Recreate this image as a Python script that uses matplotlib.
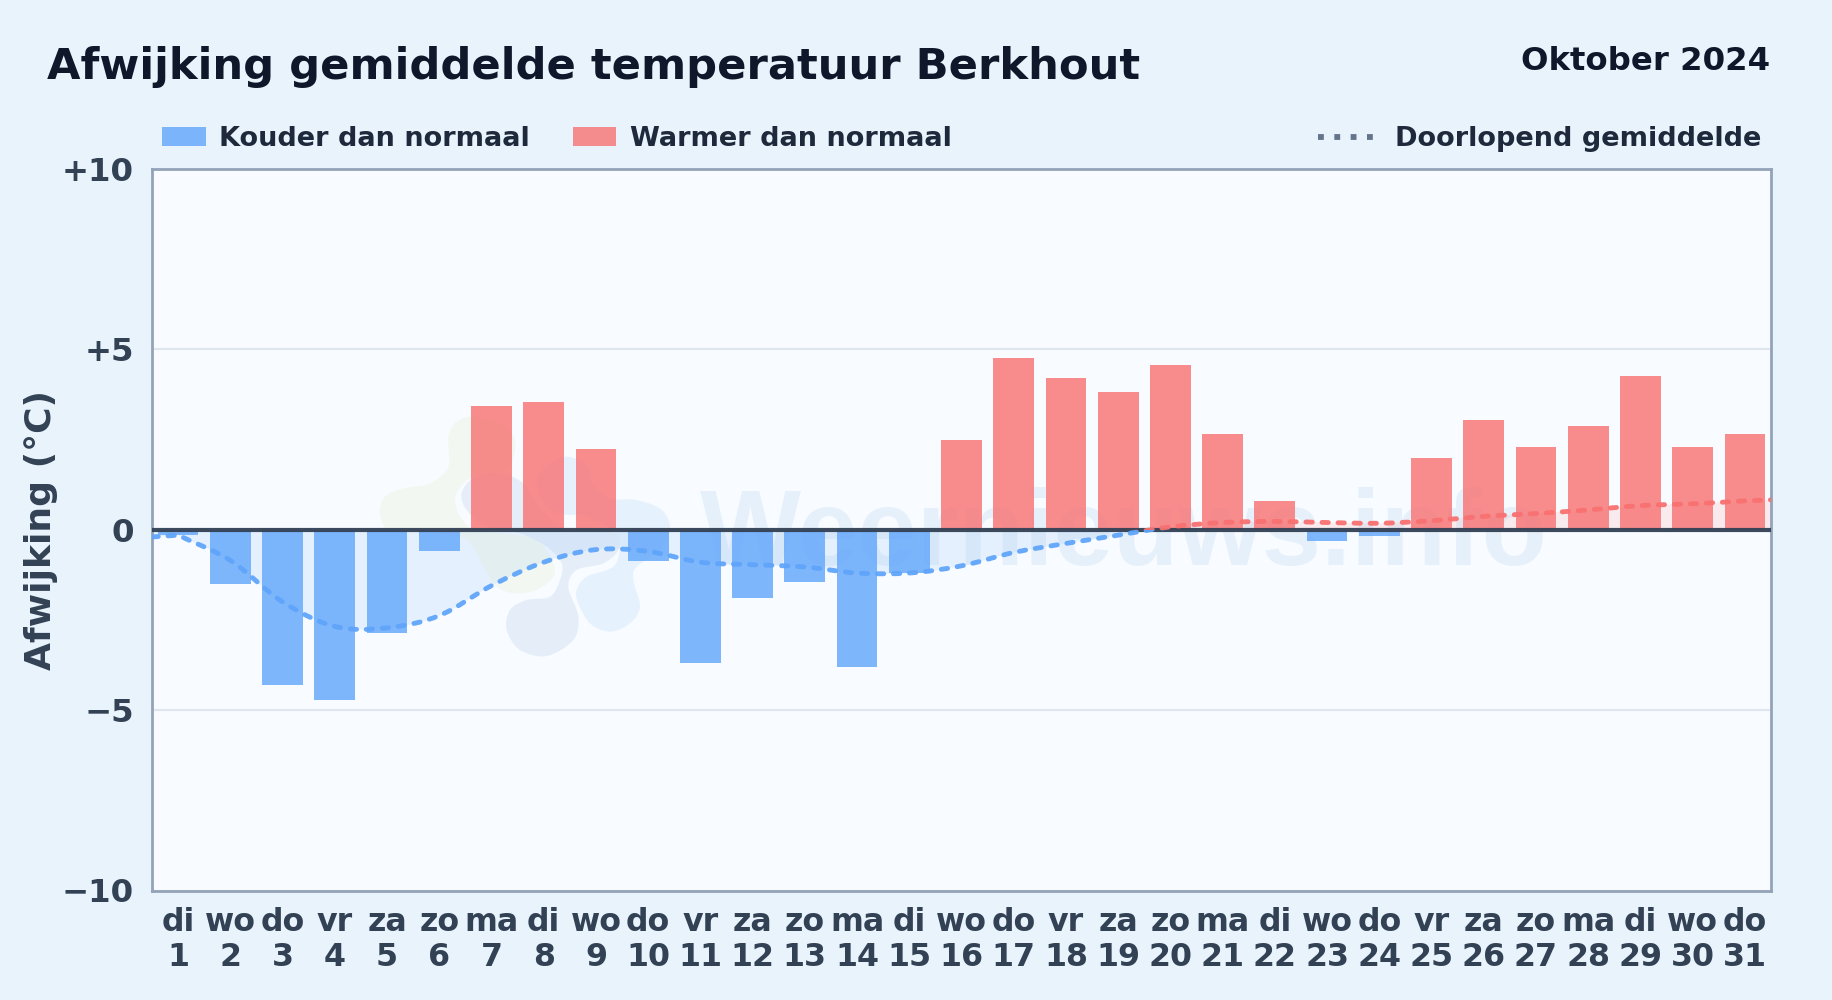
import numpy as np
import matplotlib
matplotlib.use("Agg")
import matplotlib.pyplot as plt
from matplotlib.path import Path
from matplotlib.patches import PathPatch, Rectangle
from matplotlib.lines import Line2D
from matplotlib.transforms import IdentityTransform

TITLE = "Afwijking gemiddelde temperatuur Berkhout"
PERIOD = "Oktober 2024"
WEEKDAYS = ["di","wo","do","vr","za","zo","ma","di","wo","do","vr","za","zo","ma","di","wo",
            "do","vr","za","zo","ma","di","wo","do","vr","za","zo","ma","di","wo","do"]
DAYS = list(range(1, 32))
DEVIATION = [-0.15,-1.5,-4.3,-4.73,-2.85,-0.6,3.43,3.55,2.25,-0.88,-3.68,-1.9,-1.45,-3.8,-1.2,2.5,
             4.75,4.2,3.83,4.57,2.65,0.8,-0.3,-0.17,2.0,3.05,2.3,2.87,4.25,2.3,2.65]
RUNNING = [-0.15,-0.85,-2.0,-2.68,-2.72,-2.38,-1.55,-0.9,-0.55,-0.6,-0.9,-0.97,-1.03,-1.2,-1.2,-1.0,
           -0.63,-0.38,-0.15,0.08,0.2,0.23,0.2,0.18,0.25,0.37,0.45,0.55,0.67,0.72,0.8]
YTICKS = [-10,-5,0,5,10]
YLABELS = ["\u221210","\u22125","0","+5","+10"]

W, H = 1832, 1000
BG = "#e8f3fc"; AXBG = "#f8fbff"
BLUE = "#60a5fa"; RED = "#f87171"
plt.rcParams["font.family"] = "DejaVu Sans"
plt.rcParams["font.weight"] = "bold"

fig = plt.figure(figsize=(W/100, H/100), dpi=100, facecolor=BG)
L, R, T, B = 152, 1771, 169, 890.5
ax = fig.add_axes([L/W, 1-B/H, (R-L)/W, (B-T)/H], facecolor=AXBG)
ax.set_xlim(0.5, 31.5); ax.set_ylim(-10, 10)

def fx(x): return x/W
def fy(y): return 1-y/H

# smooth curve through the running values (Catmull-Rom as Bezier)
xs = np.array(DAYS, float); ys = np.array(RUNNING, float)
def smooth_path(x, y, close_to_zero=False):
    verts = [(x[0]-0.5, y[0]-0.05), (x[0], y[0])]
    codes = [Path.MOVETO, Path.LINETO]
    n = len(x)
    for i in range(n-1):
        m0 = (y[i+1]-y[max(i-1,0)])/ (x[i+1]-x[max(i-1,0)])
        m1 = (y[min(i+2,n-1)]-y[i])/(x[min(i+2,n-1)]-x[i])
        h = x[i+1]-x[i]
        verts += [(x[i]+h/3, y[i]+m0*h/3), (x[i+1]-h/3, y[i+1]-m1*h/3), (x[i+1], y[i+1])]
        codes += [Path.CURVE4]*3
    verts.append((x[-1]+0.5, y[-1]+0.03)); codes.append(Path.LINETO)
    if close_to_zero:
        verts += [(x[-1]+0.5, 0), (x[0]-0.5, 0), (x[0]-0.5, 0)]
        codes += [Path.LINETO, Path.LINETO, Path.CLOSEPOLY]
    return Path(verts, codes)

below = Rectangle((0.5,-10), 31, 10, transform=ax.transData)
above = Rectangle((0.5,0), 31, 10, transform=ax.transData)

ax.set_yticks(YTICKS); ax.set_yticklabels(YLABELS)
ax.set_xticks(DAYS); ax.set_xticklabels([f"{d}\n{n}" for d, n in zip(WEEKDAYS, DAYS)])
ax.grid(axis="y", color="#dfe7ee", lw=1.5, zorder=0)
ax.set_axisbelow(True)
ax.tick_params(axis="both", length=0, colors="#334155", labelsize=22.8)
ax.tick_params(axis="y", pad=13, labelsize=23.3)
ax.tick_params(axis="x", pad=12)
for lbl in ax.get_xticklabels():
    lbl.set_linespacing(1.15)
for s in ax.spines.values():
    s.set_color("#94a3b8"); s.set_linewidth(2)

# area between running mean and zero
for colr, clip in ((BLUE, below), (RED, above)):
    p = PathPatch(smooth_path(xs, ys, True), fc=colr, ec="none", alpha=0.12, zorder=1)
    ax.add_patch(p); p.set_clip_path(clip)

# watermark beneath the bars: text and logo outlines in pixels
ax.text(700, H-565, "Weernieuws.info", fontsize=77, fontweight="bold", family="Liberation Sans",
        color="#7fb2e5", alpha=0.14, ha="left", va="baseline", zorder=1.5,
        transform=IdentityTransform(), clip_on=True)

def blob(outline, colr, alpha):
    pts = np.array([(360+a/3, H-(400+b/3)) for a, b in outline], float)
    n = len(pts)
    verts = [pts[0]]; codes = [Path.MOVETO]
    for i in range(n):
        p0, p1, p2, p3 = pts[i-1], pts[i], pts[(i+1) % n], pts[(i+2) % n]
        verts += [p1+(p2-p0)/6, p2-(p3-p1)/6, p2]
        codes += [Path.CURVE4]*3
    ax.add_patch(PathPatch(Path(verts, codes), fc=colr, ec="none", alpha=alpha,
                           transform=IdentityTransform(), zorder=1.5))

blob([(60,340),(75,290),(130,265),(210,250),(265,200),(265,110),(290,65),(340,50),(420,70),(465,120),
      (450,200),(400,225),(330,235),(285,300),(330,385),(420,400),(530,420),(585,510),(540,565),
      (470,580),(410,560),(370,500),(320,420),(200,395),(90,395)], "#d8e8b0", 0.17)
blob([(305,280),(340,235),(420,220),(490,250),(530,310),(610,385),(680,395),(770,400),(775,450),(730,490),
      (650,510),(625,560),(655,650),(640,720),(560,768),(480,750),(440,690),(450,630),(500,600),
      (570,590),(600,540),(605,490),(560,440),(480,400),(380,380),(320,330)], "#9dbde0", 0.2)
blob([(530,240),(570,190),(620,170),(680,195),(700,250),(750,295),(830,300),(905,330),(930,385),(900,450),
      (830,500),(820,540),(840,620),(810,670),(750,695),(690,670),(655,610),(650,570),(680,530),
      (760,500),(780,440),(770,400),(680,350),(590,340),(545,300)], "#b5d9fb", 0.28)

cols = [BLUE if v < 0 else RED for v in DEVIATION]
ax.bar(DAYS, DEVIATION, width=0.78, color=cols, alpha=0.8, zorder=2)
ax.axhline(0, color="#334155", lw=3, alpha=0.95, zorder=4)

for colr, clip in ((BLUE, below), (RED, above)):
    p = PathPatch(smooth_path(xs, ys), fc="none", ec=colr, lw=3.5, zorder=5, alpha=0.95,
                  linestyle=(0, (1.3, 2.0)), capstyle="round")
    ax.add_patch(p); p.set_clip_path(clip)

# header
fig.text(fx(47), fy(79), TITLE, fontsize=31.17, color="#0f172a", ha="left", va="baseline")
fig.text(fx(1770), fy(70), PERIOD, fontsize=23.3, color="#0f172a", ha="right", va="baseline")
ax.set_ylabel("Afwijking (\u00b0C)", fontsize=26, color="#334155", fontweight="bold")
ax.yaxis.set_label_coords((58-L)/(R-L), 0.5)

# legend
lc = "#1e293b"
fig.add_artist(Rectangle((fx(162), fy(146)), 44/W, 19/H, transform=fig.transFigure, fc=BLUE, alpha=0.8, ec="none"))
fig.add_artist(Rectangle((fx(573), fy(146)), 43/W, 19/H, transform=fig.transFigure, fc=RED, alpha=0.8, ec="none"))
fig.text(fx(219), fy(136), "Kouder dan normaal", fontsize=19.5, color=lc, ha="left", va="center_baseline")
fig.text(fx(630), fy(136), "Warmer dan normaal", fontsize=19.5, color=lc, ha="left", va="center_baseline")
fig.text(fx(1395), fy(136), "Doorlopend gemiddelde", fontsize=19.5, color=lc, ha="left", va="center_baseline")
fig.add_artist(Line2D([fx(1318), fx(1374)], [fy(137), fy(137)], transform=fig.transFigure,
                      color="#64748b", lw=4.2, linestyle=(0, (1, 1.8)), dash_capstyle="butt"))

fig.savefig("out.png", dpi=100, facecolor=BG)
